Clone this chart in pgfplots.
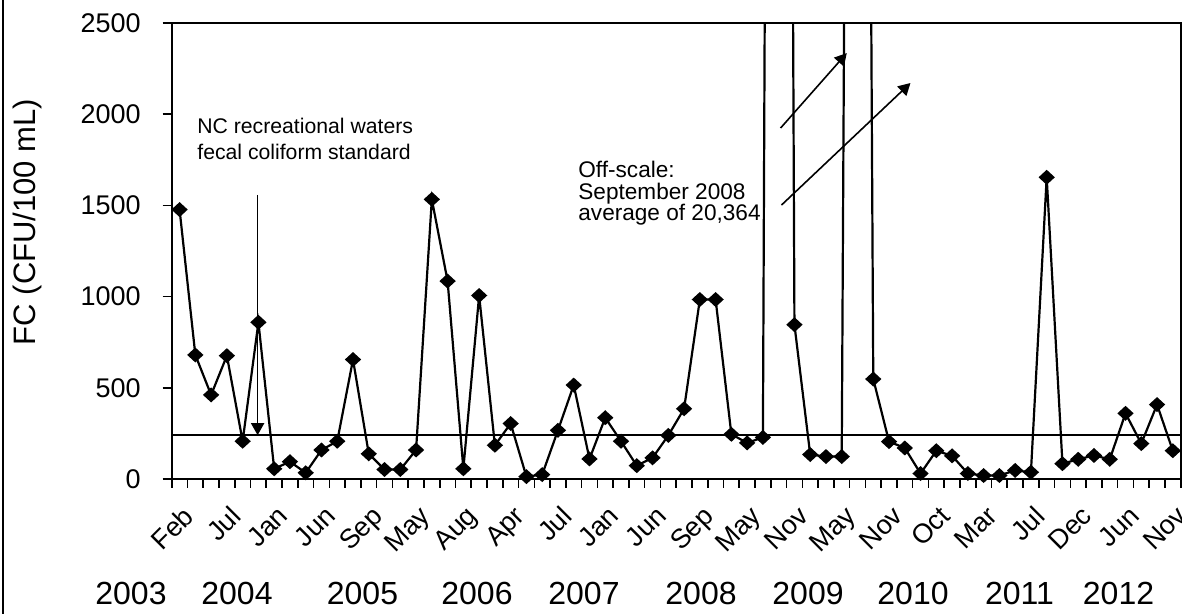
\documentclass[border=0pt]{standalone}
\usepackage{pgfplots}
\pgfplotsset{compat=1.18}
\usepackage{fontspec}
\setmainfont{Liberation Sans}
\usetikzlibrary{arrows.meta}

% font sizes used in the chart
\newcommand{\fsTick}{\fontsize{13.5}{13.5}\selectfont}
\newcommand{\fsMon}{\fontsize{13.5}{13.5}\selectfont}
\newcommand{\fsYear}{\fontsize{16}{16}\selectfont}
\newcommand{\fsTitle}{\fontsize{15.5}{15.5}\selectfont}
\newcommand{\fsNote}{\fontsize{10.6}{10.6}\selectfont}
\newcommand{\fsOff}{\fontsize{11.3}{11.3}\selectfont}

\begin{document}
\begin{tikzpicture}
\useasboundingbox (0,0) rectangle (591pt,307pt);
% chart area frame (left edge)
\draw[line width=1.1pt] (1.4pt,0) -- (1.4pt,307pt);
\begin{axis}[
  at={(85.85pt,67.5pt)}, anchor=south west,
  scale only axis, width=504.5pt, height=228pt,
  xmin=0.5, xmax=64.5, ymin=0, ymax=2500,
  axis line style={line width=1pt},
  tick pos=left,
  % labels sit on zero-length major ticks; visible marks are minor ticks
  ytick={0,500,...,2500},
  minor ytick={0,500,...,2500},
  xtick={1.13,4.13,...,64.13},
  xticklabels={Feb,Jul,Jan,Jun,Sep,May,Aug,Apr,Jul,Jan,Jun,Sep,May,
    Nov,May,Nov,Oct,Mar,Jul,Dec,Jun,Nov},
  minor xtick={0.5,1.5,...,64.5},
  tick align=outside,
  major tick length=0pt, minor tick length=4.5pt,
  tick style={black, line width=0.8pt},
  /pgf/number format/assume math mode=true,
  /pgf/number format/1000 sep={},
  yticklabel style={font=\fsTick, inner sep=0pt, anchor=east},
  yticklabel shift=15.3pt,
  xticklabel style={font=\fsMon, rotate=45, anchor=north east, inner sep=0pt},
  xticklabel shift=12.5pt,
  clip=true,
]
% fecal coliform standard
\addplot[black, line width=1pt, no marks] coordinates {(0.5,240) (64.5,240)};
% monthly fecal coliform counts
\addplot[black, line width=1.1pt, mark=diamond*, mark size=3pt,
         mark options={xscale=1.45, solid, fill=black}] coordinates {
 (1,1477) (2,680) (3,461) (4,676) (5,207) (6,859) (7,56) (8,95)
 (9,34) (10,159) (11,207) (12,655) (13,138) (14,52) (15,52) (16,159)
 (17,1533) (18,1085) (19,56) (20,1006) (21,185) (22,304) (23,13) (24,24)
 (25,267) (26,515) (27,110) (28,336) (29,207) (30,73) (31,116) (32,239)
 (33,385) (34,984) (35,984) (36,245) (37,198) (38,228) (39,20364) (40,846)
 (41,134) (42,123) (43,123) (44,16000) (45,548) (46,205) (47,170) (48,30)
 (49,155) (50,127) (51,30) (52,19) (53,19) (54,47) (55,37) (56,1654)
 (57,84) (58,108) (59,129) (60,108) (61,360) (62,194) (63,408) (64,155)
};
% annotation arrows
\draw[line width=0.8pt, -{Triangle[length=6pt,width=6.5pt]}]
  (axis cs:5.95,1557) -- (axis cs:5.95,240);
\draw[line width=0.8pt, -{Triangle[length=6pt,width=6.5pt]}]
  (axis cs:39.12,1924) -- (axis cs:43.32,2335);
\draw[line width=0.8pt, -{Triangle[length=6pt,width=6.5pt]}]
  (axis cs:39.18,1502) -- (axis cs:47.36,2171);
\end{axis}

% axis title
\node[rotate=90, inner sep=0pt] at (13.5pt,196pt) {\fsTitle FC (CFU/100 mL)};

% annotation texts
\begin{scope}[every node/.style={inner sep=0pt, anchor=base west}]
\node at (98.5pt,240pt) {\fsNote NC recreational waters};
\node at (98.5pt,227pt) {\fsNote fecal coliform standard};
\node at (289pt,218pt) {\fsOff Off-scale:};
\node at (289pt,207pt) {\fsOff September 2008};
\node at (289pt,196.5pt) {\fsOff average of 20,364};
\end{scope}

% year labels
\begin{scope}[every node/.style={inner sep=0pt, anchor=base}]
\node at (65.5pt,4.5pt) {\fsYear 2003};
\node at (118.5pt,4.5pt) {\fsYear 2004};
\node at (181.25pt,4.5pt) {\fsYear 2005};
\node at (238.5pt,4.5pt) {\fsYear 2006};
\node at (292pt,4.5pt) {\fsYear 2007};
\node at (350.5pt,4.5pt) {\fsYear 2008};
\node at (404pt,4.5pt) {\fsYear 2009};
\node at (456.5pt,4.5pt) {\fsYear 2010};
\node at (509.75pt,4.5pt) {\fsYear 2011};
\node at (559.25pt,4.5pt) {\fsYear 2012};
\end{scope}
\end{tikzpicture}
\end{document}
